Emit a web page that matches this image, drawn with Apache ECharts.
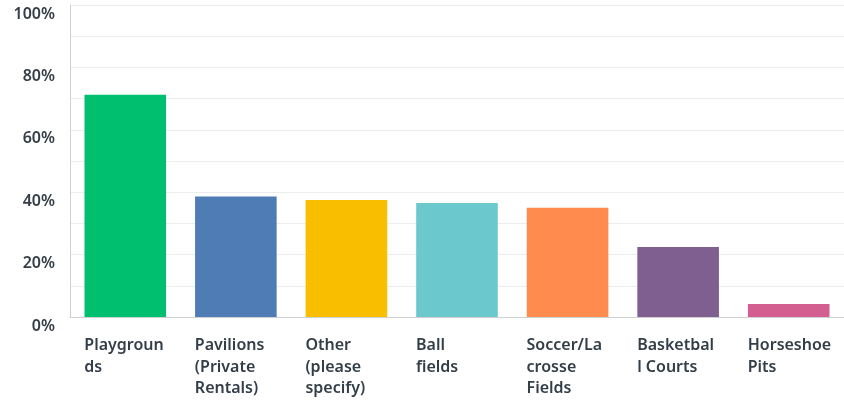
<!DOCTYPE html>
<html><head><meta charset="utf-8">
<script src="https://cdn.jsdelivr.net/npm/echarts@6/dist/echarts.min.js"></script>
<style>html,body{margin:0;padding:0;background:#fff}#c{width:844px;height:400px}</style>
</head><body><div id="c"></div>
<script>
var categories = ["Playgroun\nds", "Pavilions\n(Private\nRentals)", "Other\n(please\nspecify)", "Ball\nfields", "Soccer/La\ncrosse\nFields", "Basketbal\nl Courts", "Horseshoe\nPits"];
var values = [71.2, 38.6, 37.5, 36.5, 35.0, 22.4, 4.2];
var colors = ["#00bf6f", "#507cb6", "#f9be00", "#6bc8cd", "#ff8b4f", "#7f5f90", "#d25f90"];
var yTicks = [0, 20, 40, 60, 80, 100];

var chart = echarts.init(document.getElementById('c'));
chart.setOption({
  animation: false,
  grid: {left: 70, right: -4, top: 5, bottom: 83, containLabel: false},
  xAxis: {
    type: 'category', data: categories,
    axisLine: {show: true, lineStyle: {color: '#d0d0d0', width: 1}},
    axisTick: {show: false},
    axisLabel: {
      interval: 0, margin: 18,
      formatter: function (v) { return v.split('\n').map(function (l) { return '{a|' + l + '}'; }).join('\n'); },
      rich: {a: {width: 82, align: 'left', fontFamily: 'Noto Sans', fontWeight: 600, fontSize: 16, color: '#333e48', lineHeight: 21.5}}
    }
  },
  yAxis: {
    type: 'value', min: 0, max: 100, interval: 10,
    axisLine: {show: true, lineStyle: {color: '#d0d0d0', width: 1}},
    axisTick: {show: false},
    splitLine: {show: true, lineStyle: {color: '#ececec', width: 1}},
    axisLabel: {
      margin: 15, verticalAlign: 'top', lineHeight: 18,
      fontFamily: 'Noto Sans', fontWeight: 600, fontSize: 16, color: '#333e48',
      formatter: function (v) { return yTicks.indexOf(v) >= 0 ? v + '%' : ''; }
    }
  },
  series: [{
    type: 'bar', barCategoryGap: '26.2%',
    data: values.map(function (v, i) { return {value: v, itemStyle: {color: colors[i]}}; })
  }]
});
</script></body></html>
